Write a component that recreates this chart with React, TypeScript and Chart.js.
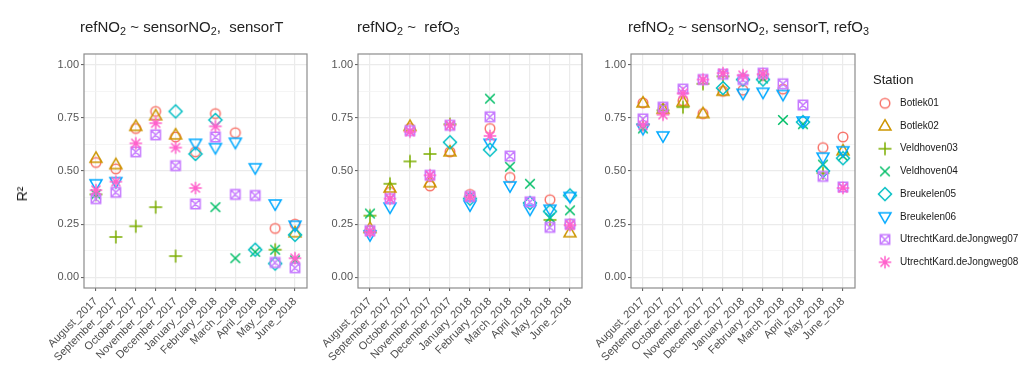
import React, { useEffect, useRef } from 'react';
import { Chart, registerables } from 'chart.js';

Chart.register(...registerables);

// ---------- categories / legend ----------
const MONTHS = [
  'August_2017', 'September_2017', 'October_2017', 'November_2017', 'December_2017',
  'January_2018', 'February_2018', 'March_2018', 'April_2018', 'May_2018', 'June_2018',
];
const STATIONS = [
  'Botlek01', 'Botlek02', 'Veldhoven03', 'Veldhoven04', 'Breukelen05', 'Breukelen06',
  'UtrechtKard.deJongweg07', 'UtrechtKard.deJongweg08',
];
const COLORS = ['#F8766D', '#CD9600', '#7CAE00', '#00BE67', '#00BFC4', '#00A9FF', '#C77CFF', '#FF61CC'];
const SHAPES = ['circle', 'triangle', 'plus', 'cross', 'diamond', 'triangleDown', 'squareCross', 'asterisk'];
const Y_TICKS = [0, 0.125, 0.25, 0.375, 0.5, 0.625, 0.75, 0.875, 1];
const Y_MAJOR = [0, 0.25, 0.5, 0.75, 1];

// ---------- panel 1: refNO2 ~ sensorNO2, sensorT ----------
const p1Botlek01 = [0.54, 0.51, 0.70, 0.78, 0.66, 0.59, 0.77, 0.68, null, 0.23, 0.25];
const p1Botlek02 = [0.56, 0.53, 0.71, 0.76, 0.67, null, null, null, null, null, 0.21];
const p1Veldhoven03 = [0.39, 0.19, 0.24, 0.33, 0.10, null, null, null, null, 0.13, null];
const p1Veldhoven04 = [0.39, null, null, null, null, null, 0.33, 0.09, 0.12, 0.13, 0.08];
const p1Breukelen05 = [null, null, null, null, 0.78, 0.58, 0.74, null, 0.13, 0.065, 0.20];
const p1Breukelen06 = [0.44, 0.45, null, null, null, 0.63, 0.61, 0.635, 0.515, 0.345, 0.245];
const p1Utrecht07 = [0.37, 0.40, 0.59, 0.67, 0.525, 0.345, 0.66, 0.39, 0.385, 0.07, 0.045];
const p1Utrecht08 = [0.41, 0.45, 0.63, 0.725, 0.61, 0.42, 0.71, null, null, null, 0.09];

// ---------- panel 2: refNO2 ~ refO3 ----------
const p2Botlek01 = [0.22, 0.40, 0.70, 0.43, 0.59, 0.39, 0.70, 0.47, null, 0.365, 0.25];
const p2Botlek02 = [0.23, 0.42, 0.71, 0.445, 0.59, null, null, null, null, null, 0.21];
const p2Veldhoven03 = [0.29, 0.44, 0.545, 0.58, 0.72, null, null, null, null, 0.27, null];
const p2Veldhoven04 = [0.30, null, null, null, null, null, 0.84, 0.52, 0.44, 0.28, 0.315];
const p2Breukelen05 = [null, null, null, null, 0.635, 0.37, 0.60, null, 0.35, 0.31, 0.385];
const p2Breukelen06 = [0.20, 0.33, null, null, null, 0.34, 0.63, 0.43, 0.32, 0.32, 0.38];
const p2Utrecht07 = [0.22, 0.37, 0.69, 0.48, 0.715, 0.38, 0.755, 0.57, 0.355, 0.235, 0.25];
const p2Utrecht08 = [0.215, 0.37, 0.685, 0.48, 0.715, 0.38, 0.665, null, null, null, 0.245];

// ---------- panel 3: refNO2 ~ sensorNO2, sensorT, refO3 ----------
const p3Botlek01 = [0.82, 0.79, 0.83, 0.77, 0.875, 0.88, 0.95, 0.885, null, 0.61, 0.66];
const p3Botlek02 = [0.82, 0.79, 0.825, 0.77, 0.875, null, null, null, null, null, 0.595];
const p3Veldhoven03 = [0.72, 0.785, 0.80, 0.91, 0.945, null, null, null, null, 0.49, null];
const p3Veldhoven04 = [0.70, null, null, null, null, null, 0.935, 0.74, 0.72, 0.53, 0.57];
const p3Breukelen05 = [null, null, null, null, 0.89, 0.93, 0.93, null, 0.73, 0.50, 0.56];
const p3Breukelen06 = [0.70, 0.665, null, null, null, 0.865, 0.87, 0.86, 0.735, 0.565, 0.595];
const p3Utrecht07 = [0.745, 0.80, 0.885, 0.93, 0.955, 0.93, 0.96, 0.91, 0.81, 0.475, 0.425];
const p3Utrecht08 = [0.715, 0.765, 0.865, 0.93, 0.96, 0.95, 0.955, null, null, null, 0.42];

const PANEL1 = [p1Botlek01, p1Botlek02, p1Veldhoven03, p1Veldhoven04, p1Breukelen05, p1Breukelen06, p1Utrecht07, p1Utrecht08];
const PANEL2 = [p2Botlek01, p2Botlek02, p2Veldhoven03, p2Veldhoven04, p2Breukelen05, p2Breukelen06, p2Utrecht07, p2Utrecht08];
const PANEL3 = [p3Botlek01, p3Botlek02, p3Veldhoven03, p3Veldhoven04, p3Breukelen05, p3Breukelen06, p3Utrecht07, p3Utrecht08];

const FONT = '"Liberation Sans", Arial, sans-serif';
const W = 1019;
const H = 372;

function makeMarker(shape: string, color: string): HTMLCanvasElement {
  const c = document.createElement('canvas');
  c.width = 18;
  c.height = 18;
  const g = c.getContext('2d')!;
  g.translate(9, 9);
  g.strokeStyle = color;
  g.lineWidth = 1.5;
  g.lineJoin = 'miter';
  g.beginPath();
  if (shape === 'circle') {
    g.arc(0, 0, 4.8, 0, Math.PI * 2);
  } else if (shape === 'triangle') {
    g.moveTo(0, -6.3); g.lineTo(6, 4.1); g.lineTo(-6, 4.1); g.closePath();
  } else if (shape === 'triangleDown') {
    g.moveTo(0, 6.3); g.lineTo(6, -4.1); g.lineTo(-6, -4.1); g.closePath();
  } else if (shape === 'plus') {
    g.moveTo(-6.5, 0); g.lineTo(6.5, 0); g.moveTo(0, -6.5); g.lineTo(0, 6.5);
  } else if (shape === 'cross') {
    g.moveTo(-4.8, -4.8); g.lineTo(4.8, 4.8); g.moveTo(4.8, -4.8); g.lineTo(-4.8, 4.8);
  } else if (shape === 'diamond') {
    g.moveTo(0, -6.5); g.lineTo(6.5, 0); g.lineTo(0, 6.5); g.lineTo(-6.5, 0); g.closePath();
  } else if (shape === 'squareCross') {
    g.rect(-4.7, -4.7, 9.4, 9.4);
    g.moveTo(-4.7, -4.7); g.lineTo(4.7, 4.7); g.moveTo(4.7, -4.7); g.lineTo(-4.7, 4.7);
  } else if (shape === 'asterisk') {
    g.moveTo(-6.3, 0); g.lineTo(6.3, 0); g.moveTo(0, -6.3); g.lineTo(0, 6.3);
    g.moveTo(-4.5, -4.5); g.lineTo(4.5, 4.5); g.moveTo(4.5, -4.5); g.lineTo(-4.5, 4.5);
  }
  g.stroke();
  return c;
}

const panelBorder = {
  id: 'panelBorder',
  afterDatasetsDraw(chart: any) {
    const { ctx, chartArea: a } = chart;
    ctx.save();
    ctx.strokeStyle = '#8c8c8c';
    ctx.lineWidth = 1.2;
    ctx.strokeRect(a.left, a.top, a.right - a.left, a.bottom - a.top);
    ctx.restore();
  },
};

function makeLegendPlugin(markers: HTMLCanvasElement[]) {
  return {
    id: 'stationLegend',
    afterDraw(chart: any) {
      const ctx = chart.ctx;
      ctx.save();
      ctx.fillStyle = '#1a1a1a';
      ctx.textBaseline = 'middle';
      ctx.textAlign = 'left';
      ctx.font = `13px ${FONT}`;
      ctx.fillText('Station', 873, 80);
      ctx.font = `10px ${FONT}`;
      STATIONS.forEach((name, i) => {
        const y = 103.3 + i * 22.7;
        const m = markers[i];
        ctx.drawImage(m, 885 - m.width / 2, y - m.height / 2);
        ctx.fillText(name, 900, y);
      });
      ctx.restore();
    },
  };
}

function makeConfig(series: (number | null)[][], markers: HTMLCanvasElement[], padLeft: number, padRight: number, yWidth: number, extra: any[]) {
  const isMajor = (v: number) => Y_MAJOR.some((m) => Math.abs(m - v) < 1e-6);
  return {
    type: 'scatter',
    data: {
      datasets: STATIONS.map((name, i) => ({
        label: name,
        data: series[i]
          .map((v, k) => (v == null ? null : { x: k, y: v }))
          .filter((p) => p !== null),
        pointStyle: markers[i],
        pointRadius: 6,
        pointHoverRadius: 6,
        showLine: false,
        order: STATIONS.length - i,
      })),
    },
    options: {
      animation: false,
      responsive: false,
      maintainAspectRatio: false,
      events: [],
      layout: { padding: { left: padLeft, right: padRight, top: 54, bottom: 0 } },
      plugins: {
        legend: { display: false },
        tooltip: { enabled: false },
        title: { display: false },
      },
      scales: {
        x: {
          type: 'linear',
          min: -0.6,
          max: 10.6,
          afterBuildTicks: (s: any) => {
            s.ticks = MONTHS.map((_, i) => ({ value: i }));
          },
          afterFit: (s: any) => {
            s.height = 84;
          },
          ticks: {
            autoSkip: false,
            maxRotation: 45,
            minRotation: 45,
            padding: 4,
            color: '#4d4d4d',
            font: { family: FONT, size: 11 },
            callback: (v: number) => MONTHS[Math.round(v)] ?? '',
          },
          grid: {
            color: '#ebebeb',
            lineWidth: 1.2,
            tickLength: 3,
            tickColor: '#555',
            tickWidth: 1,
          },
          border: { display: false },
        },
        y: {
          type: 'linear',
          min: -0.05,
          max: 1.05,
          afterBuildTicks: (s: any) => {
            s.ticks = Y_TICKS.map((v) => ({ value: v }));
          },
          afterFit: (s: any) => {
            s.width = yWidth;
          },
          ticks: {
            autoSkip: false,
            padding: 2,
            color: '#555',
            font: { family: FONT, size: 11 },
            callback: (v: number) => (isMajor(v) ? v.toFixed(2) : ''),
          },
          grid: {
            color: (c: any) => (isMajor(c.tick.value) ? '#ebebeb' : '#f3f3f3'),
            lineWidth: (c: any) => (isMajor(c.tick.value) ? 1.2 : 0.8),
            tickLength: 3,
            tickColor: (c: any) => (isMajor(c.tick.value) ? '#555' : 'rgba(0,0,0,0)'),
            tickWidth: 1,
          },
          border: { display: false },
        },
      },
    },
    plugins: [panelBorder, ...extra],
  } as any;
}

const subStyle: React.CSSProperties = { fontSize: '0.72em', verticalAlign: '-0.3em', lineHeight: 0 };
const titleStyle = (left: number): React.CSSProperties => ({
  position: 'absolute',
  left,
  top: 18,
  fontFamily: FONT,
  fontSize: 15,
  lineHeight: '18px',
  color: '#222',
  whiteSpace: 'pre',
});

export default function App() {
  const c1 = useRef<HTMLCanvasElement>(null);
  const c2 = useRef<HTMLCanvasElement>(null);
  const c3 = useRef<HTMLCanvasElement>(null);

  useEffect(() => {
    const markers = SHAPES.map((s, i) => makeMarker(s, COLORS[i]));
    const charts = [
      new Chart(c1.current!, makeConfig(PANEL1, markers, 0, W - 307, 84, [])),
      new Chart(c2.current!, makeConfig(PANEL2, markers, 298, W - 582, 60, [])),
      new Chart(c3.current!, makeConfig(PANEL3, markers, 571, W - 855, 60, [makeLegendPlugin(markers)])),
    ];
    return () => charts.forEach((c) => c.destroy());
  }, []);

  const canvasStyle: React.CSSProperties = { position: 'absolute', left: 0, top: 0, width: W, height: H };

  return (
    <div style={{ position: 'fixed', left: 0, top: 0, width: W, height: H, background: '#fff', overflow: 'hidden' }}>
      <canvas ref={c1} width={W} height={H} style={canvasStyle} />
      <canvas ref={c2} width={W} height={H} style={canvasStyle} />
      <canvas ref={c3} width={W} height={H} style={canvasStyle} />
      <div style={titleStyle(80)}>
        refNO<sub style={subStyle}>2</sub> ~ sensorNO<sub style={subStyle}>2</sub>,  sensorT
      </div>
      <div style={titleStyle(357)}>
        refNO<sub style={subStyle}>2</sub> ~  refO<sub style={subStyle}>3</sub>
      </div>
      <div style={titleStyle(628)}>
        refNO<sub style={subStyle}>2</sub> ~ sensorNO<sub style={subStyle}>2</sub>, sensorT, refO<sub style={subStyle}>3</sub>
      </div>
      <div
        style={{
          position: 'absolute',
          left: 22,
          top: 194,
          transform: 'translate(-50%, -50%) rotate(-90deg)',
          fontFamily: FONT,
          fontSize: 14,
          color: '#1a1a1a',
          whiteSpace: 'nowrap',
        }}
      >
        R²
      </div>
    </div>
  );
}
